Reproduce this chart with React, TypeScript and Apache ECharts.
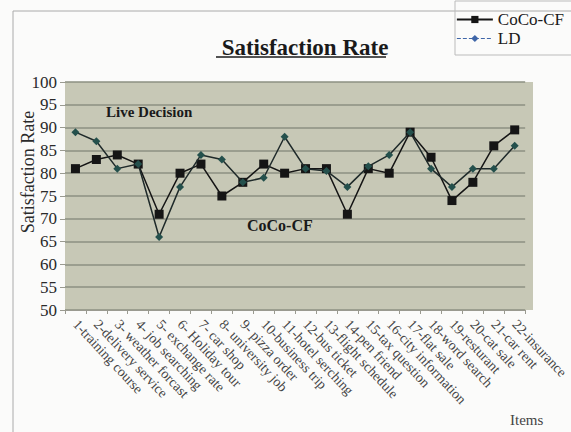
import React, { useEffect, useRef } from "react";
import * as echarts from "echarts";

const categories = [
  "1-training course",
  "2-delivery service",
  "3- weather forcast",
  "4- job searching",
  "5- exchange rate",
  "6- Holiday tour",
  "7- car shop",
  "8- university job",
  "9- pizza order",
  "10-business trip",
  "11-hotel serching",
  "12-bus ticket",
  "13-flight schedule",
  "14-pen friend",
  "15-tax question",
  "16-city information",
  "17-flat sale",
  "18-word search",
  "19-resturant",
  "20-cat sale",
  "21-car rent",
  "22-insurance",
];

const cocoCF = [81, 83, 84, 82, 71, 80, 82, 75, 78, 82, 80, 81, 81, 71, 81, 80, 89, 83.5, 74, 78, 86, 89.5];
const ld = [89, 87, 81, 82, 66, 77, 84, 83, 78, 79, 88, 81, 80.5, 77, 81.5, 84, 89, 81, 77, 81, 81, 86];

const yTicks = [50, 55, 60, 65, 70, 75, 80, 85, 90, 95, 100];

const FONT = "'Liberation Serif', 'DejaVu Serif', serif";

export default function App() {
  const ref = useRef<HTMLDivElement>(null);

  useEffect(() => {
    if (!ref.current) return;
    const chart = echarts.init(ref.current, null, { renderer: "svg" });
    chart.setOption({
      animation: false,
      backgroundColor: "#fbfbfa",
      textStyle: { fontFamily: FONT },
      title: {
        text: "Satisfaction Rate",
        left: 300,
        textAlign: "center",
        top: 31,
        textStyle: {
          fontFamily: FONT,
          fontSize: 23,
          fontWeight: "bold",
          color: "#1a1a1a",
        },
      },
      legend: {
        right: 2,
        top: 6,
        orient: "vertical",
        itemWidth: 36,
        itemHeight: 9,
        itemGap: 2,
        textStyle: { fontFamily: FONT, fontSize: 17, color: "#1a1a1a" },
        data: [
          { name: "CoCo-CF" },
          {
            name: "LD",
            itemStyle: { color: "#3f66a8" },
            lineStyle: { color: "#3f66a8", type: "dashed", width: 1 },
          },
        ],
      },
      grid: { left: 65, right: 38, top: 82, bottom: 122 },
      xAxis: {
        type: "category",
        data: categories,
        boundaryGap: true,
        axisLine: { lineStyle: { color: "#9a9a90" } },
        axisTick: { show: true, length: 4, lineStyle: { color: "#9a9a90" } },
        axisLabel: {
          interval: 0,
          rotate: -47,
          fontFamily: FONT,
          fontSize: 14,
          color: "#444",
          margin: 12,
        },
      },
      yAxis: {
        type: "value",
        min: 50,
        max: 100,
        interval: 5,
        axisLine: { show: false },
        axisTick: { show: true, length: 5, lineStyle: { color: "#9a9a90" } },
        axisLabel: {
          fontFamily: FONT,
          fontSize: 17,
          color: "#2a2a2a",
          margin: 8,
          formatter: (v: number) => (yTicks.includes(v) ? String(v) : ""),
        },
        splitLine: { show: true, lineStyle: { color: "#8d9082", width: 1.5 } },
      },
      graphic: [
        {
          type: "rect",
          z: -10,
          shape: { x: 65, y: 82, width: 468, height: 228 },
          style: { fill: "#c7c8b6" },
          silent: true,
        },
        {
          type: "rect",
          z: -10,
          shape: { x: 13, y: 11, width: 600, height: 440 },
          style: { fill: "none", stroke: "#aaaaaa", lineWidth: 1 },
          silent: true,
        },
        {
          type: "rect",
          z: 10,
          shape: { x: 455, y: 1, width: 130, height: 54 },
          style: { fill: "none", stroke: "#bbbbbb", lineWidth: 1 },
          silent: true,
        },
        {
          type: "line",
          z: 10,
          shape: { x1: 216, y1: 57, x2: 386, y2: 57 },
          style: { stroke: "#1a1a1a", lineWidth: 1.5 },
          silent: true,
        },
        {
          type: "text",
          x: 28,
          y: 172,
          rotation: Math.PI / 2,
          style: {
            text: "Satisfaction Rate",
            fontFamily: FONT,
            fontSize: 18,
            fill: "#2a2a2a",
            align: "center",
            verticalAlign: "middle",
          },
        },
        {
          type: "text",
          x: 510,
          y: 412,
          style: {
            text: "Items",
            fontFamily: FONT,
            fontSize: 15,
            fill: "#444",
          },
        },
        {
          type: "text",
          x: 106,
          y: 104,
          style: {
            text: "Live Decision",
            fontFamily: FONT,
            fontSize: 15,
            fontWeight: "bold",
            fill: "#1a1a1a",
          },
        },
        {
          type: "text",
          x: 247,
          y: 217,
          style: {
            text: "CoCo-CF",
            fontFamily: FONT,
            fontSize: 16,
            fontWeight: "bold",
            fill: "#1a1a1a",
          },
        },
      ],
      series: [
        {
          name: "CoCo-CF",
          type: "line",
          data: cocoCF,
          symbol: "rect",
          symbolSize: 9,
          itemStyle: { color: "#151515" },
          lineStyle: { color: "#151515", width: 1.5 },
          z: 3,
        },
        {
          name: "LD",
          type: "line",
          data: ld,
          symbol: "diamond",
          symbolSize: 8,
          itemStyle: { color: "#24504c" },
          lineStyle: { color: "#1f2a2a", width: 1.5 },
          z: 4,
        },
      ],
    });
    return () => chart.dispose();
  }, []);

  return (
    <div
      ref={ref}
      style={{ position: "fixed", left: 0, top: 0, width: 571, height: 432 }}
    />
  );
}
